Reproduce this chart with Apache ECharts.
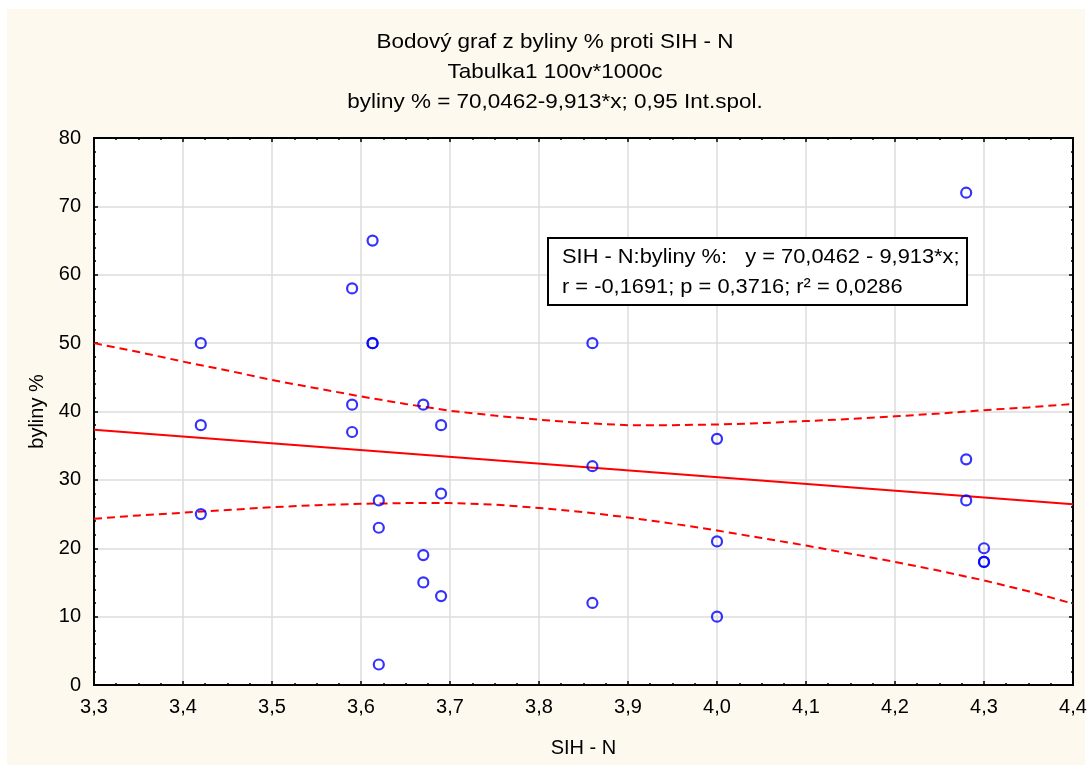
<!DOCTYPE html>
<html>
<head>
<meta charset="utf-8">
<script src="https://cdn.jsdelivr.net/npm/echarts@6/dist/echarts.min.js"></script>
<style>
html,body{margin:0;padding:0;background:#ffffff;}
#chart{width:1092px;height:772px;}
</style>
</head>
<body>
<div id="chart"></div>
<script>
// ---- data ----
const titleLines = ['Bodový graf z byliny % proti SIH - N', 'Tabulka1 100v*1000c', 'byliny % = 70,0462-9,913*x; 0,95 Int.spol.'];
const xName = 'SIH - N';
const yName = 'byliny %';
const legendLine1 = 'SIH - N:byliny %:   y = 70,0462 - 9,913*x;';
const legendLine2 = 'r = -0,1691; p = 0,3716; r² = 0,0286';

const sihN = [3.42,3.42,3.42, 3.59,3.59,3.59, 3.613,3.613,3.613, 3.62,3.62,3.62, 3.67,3.67,3.67,
              3.69,3.69,3.69, 3.86,3.86,3.86, 4.0,4.0,4.0, 4.28,4.28,4.28, 4.3,4.3,4.3];
const byliny = [50,38,25, 58,41,37, 65,50,50, 27,23,3, 41,19,15,
                38,28,13, 50,32,12, 36,21,10, 72,33,27, 20,18,18];

const fitX = [3.3, 4.4];
const fitY = [37.33, 26.43];

const bandX = [3.3,3.35,3.4,3.45,3.5,3.55,3.6,3.65,3.7,3.75,3.8,3.85,3.9,3.95,4.0,4.05,4.1,4.15,4.2,4.25,4.3,4.35,4.4];
const bandUpper = [50.0,48.7,47.3,46.0,44.6,43.4,42.2,41.1,40.1,39.4,38.8,38.3,38.0,38.0,38.1,38.3,38.6,38.9,39.3,39.7,40.2,40.6,41.1];
const bandLower = [24.3,24.8,25.2,25.6,26.0,26.3,26.5,26.6,26.6,26.4,25.9,25.3,24.5,23.6,22.6,21.5,20.4,19.2,18.0,16.7,15.3,13.7,11.9];

const zip = (a, b) => a.map((v, i) => [v, b[i]]);

const FONT = 'Liberation Sans, Arial, sans-serif';
const chart = echarts.init(document.getElementById('chart'), null, {renderer: 'canvas'});

const tickStyle = {show: true, inside: true, length: 4, lineStyle: {color: '#000', width: 1.5}};
const minorTickStyle = {show: true, length: 2, lineStyle: {color: '#000', width: 1.5}};

const titleText = (t, y) => ({type: 'text', x: 555, y: y, scaleX: 1.07, z: 100,
  style: {text: t, fill: '#000', font: '21px ' + FONT, align: 'center', verticalAlign: 'middle'}});

chart.setOption({
  backgroundColor: '#ffffff',
  animation: false,
  graphic: [
    {type: 'rect', z: -10, shape: {x: 7, y: 9, width: 1078, height: 756}, style: {fill: '#fdf9ee'}},
    {type: 'rect', z: 100, shape: {x: 548, y: 238, width: 419, height: 67}, style: {fill: '#ffffff', stroke: '#000', lineWidth: 2}},
    {type: 'text', z: 101, x: 562, y: 257, scaleX: 1.04, style: {text: legendLine1, fill: '#000', font: '21px ' + FONT, verticalAlign: 'middle'}},
    {type: 'text', z: 101, x: 562, y: 287, scaleX: 1.04, style: {text: legendLine2, fill: '#000', font: '21px ' + FONT, verticalAlign: 'middle'}},
    titleText(titleLines[0], 42),
    titleText(titleLines[1], 72),
    titleText(titleLines[2], 102)
  ],
  grid: {left: 94, top: 138, right: 19, bottom: 87, show: true, backgroundColor: '#ffffff', borderColor: '#000', borderWidth: 2, containLabel: false},
  xAxis: [{
    type: 'value', min: 3.3, max: 4.4, interval: 0.1, position: 'bottom',
    name: xName, nameLocation: 'middle', nameGap: 53,
    nameTextStyle: {color: '#000', fontSize: 20, fontFamily: FONT},
    axisLine: {show: true, onZero: false, lineStyle: {color: '#000', width: 2}},
    axisTick: tickStyle, minorTick: Object.assign({splitNumber: 4}, minorTickStyle),
    axisLabel: {color: '#000', fontSize: 20, fontFamily: FONT, margin: 12,
      formatter: v => v.toFixed(1).replace('.', ',')},
    splitLine: {show: true, lineStyle: {color: '#dcdcdc', width: 1.5}}
  }, {
    type: 'value', min: 3.3, max: 4.4, interval: 0.1, position: 'top',
    axisLine: {show: true, onZero: false, lineStyle: {color: '#000', width: 2}},
    axisTick: tickStyle, minorTick: Object.assign({splitNumber: 4}, minorTickStyle),
    axisLabel: {show: false}, splitLine: {show: false}
  }],
  yAxis: [{
    type: 'value', min: 0, max: 80, interval: 10, position: 'left',
    name: yName, nameLocation: 'middle', nameGap: 45,
    nameTextStyle: {color: '#000', fontSize: 20, fontFamily: FONT},
    axisLine: {show: true, onZero: false, lineStyle: {color: '#000', width: 2}},
    axisTick: tickStyle, minorTick: Object.assign({splitNumber: 5}, minorTickStyle),
    axisLabel: {color: '#000', fontSize: 20, fontFamily: FONT, margin: 13},
    splitLine: {show: true, lineStyle: {color: '#dcdcdc', width: 1.5}}
  }, {
    type: 'value', min: 0, max: 80, interval: 10, position: 'right',
    axisLine: {show: true, onZero: false, lineStyle: {color: '#000', width: 2}},
    axisTick: tickStyle, minorTick: Object.assign({splitNumber: 5}, minorTickStyle),
    axisLabel: {show: false}, splitLine: {show: false}
  }],
  series: [
    {type: 'line', data: zip(bandX, bandUpper), showSymbol: false, symbol: 'none', z: 3,
      lineStyle: {color: '#ff0000', width: 2, type: [8, 5]}},
    {type: 'line', data: zip(bandX, bandLower), showSymbol: false, symbol: 'none', z: 3,
      lineStyle: {color: '#ff0000', width: 2, type: [8, 5]}},
    {type: 'line', data: zip(fitX, fitY), showSymbol: false, symbol: 'none', z: 3,
      lineStyle: {color: '#ff0000', width: 2}},
    {type: 'scatter', data: zip(sihN, byliny), symbol: 'circle', symbolSize: 10, z: 5,
      itemStyle: {color: 'rgba(255,255,255,0)', borderColor: '#0000ff', borderWidth: 2.2}}
  ]
});
</script>
</body>
</html>
